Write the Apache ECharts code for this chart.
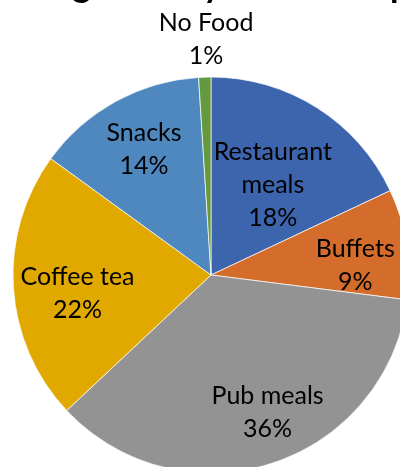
<!DOCTYPE html>
<html>
<head>
<meta charset="utf-8">
<script src="https://cdn.jsdelivr.net/npm/echarts@6/dist/echarts.min.js"></script>
<style>
  html, body { margin: 0; padding: 0; background: #fff; }
  #chart { width: 400px; height: 467px; }
</style>
</head>
<body>
<div id="chart"></div>
<script>
// Catering preferences, clockwise from 12 o'clock
const categories = ['Restaurant\nmeals', 'Buffets', 'Pub meals', 'Coffee tea', 'Snacks', 'No Food'];
const shares = [18, 9, 36, 22, 14, 1];
const colors = ['#3D65AD', '#D46D2B', '#939393', '#E1A900', '#4E88BE', '#64993F'];
const titleText = 'What type of catering would you like the pub to provide?';

// Label placement for each slice: [fraction of radius, angle in degrees clockwise from top]
const labelPlacement = [
  [0.55, 34.6],
  [0.73, 86.4],
  [0.75, 157.6],
  [0.68, 262.3],
  [0.72, 332],
  [1.19, 358.8]
];

const cx = 211, cy = 275, R = 198;
const fontFamily = 'Lato, "Open Sans", sans-serif';

// Title is wider than the canvas; size and shift it so only its lower edge shows
const ctx = document.createElement('canvas').getContext('2d');
ctx.font = 'bold 36px ' + fontFamily;
let titleSize = 36 * 187 / ctx.measureText('you like the ').width;
if (!(titleSize > 20 && titleSize < 50)) titleSize = 34;
const titleFont = 'bold ' + titleSize.toFixed(1) + 'px ' + fontFamily;
ctx.font = titleFont;
const titleX = 203 - ctx.measureText('What type of catering would ').width;
const titleY = 0 - 0.42 * titleSize;

const chart = echarts.init(document.getElementById('chart'), null, { renderer: 'canvas' });
chart.setOption({
  animation: false,
  backgroundColor: '#fff',
  graphic: [{
    type: 'text',
    x: titleX,
    y: titleY,
    z: 10,
    style: {
      text: titleText,
      font: titleFont,
      fill: '#000',
      textAlign: 'left',
      textVerticalAlign: 'middle'
    }
  }],
  series: [{
    type: 'pie',
    center: [cx, cy],
    radius: R,
    startAngle: 90,
    clockwise: true,
    silent: true,
    itemStyle: { borderColor: '#fff', borderWidth: 0.7 },
    label: {
      show: true,
      position: 'inside',
      color: '#000',
      fontFamily: fontFamily,
      fontSize: 25,
      lineHeight: 33,
      align: 'center',
      verticalAlign: 'middle',
      formatter: p => p.name + '\n' + p.value + '%'
    },
    labelLine: { show: false },
    labelLayout: p => {
      const pl = labelPlacement[p.dataIndex];
      const a = pl[1] * Math.PI / 180;
      return {
        x: cx + pl[0] * R * Math.sin(a),
        y: cy - pl[0] * R * Math.cos(a),
        align: 'center',
        verticalAlign: 'middle'
      };
    },
    data: categories.map((c, i) => ({
      name: c,
      value: shares[i],
      itemStyle: { color: colors[i] }
    }))
  }]
});
</script>
</body>
</html>
